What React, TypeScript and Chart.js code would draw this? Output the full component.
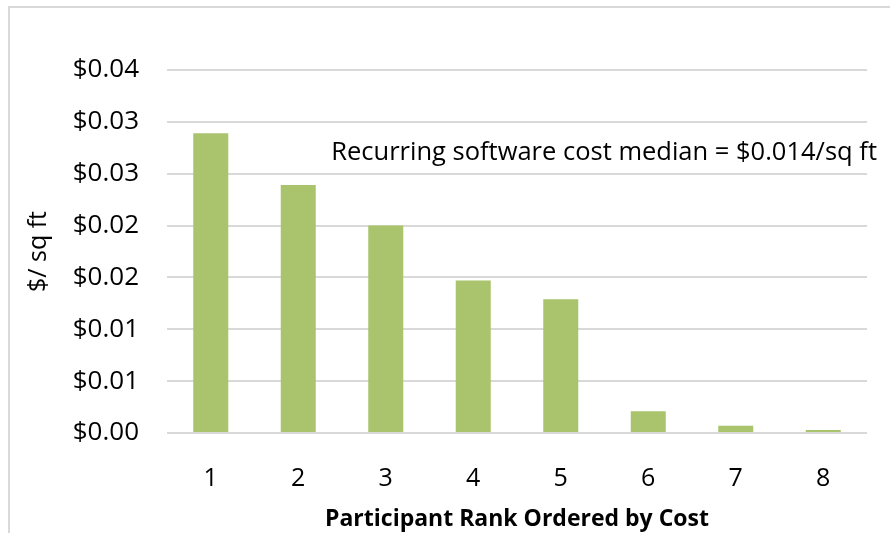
import React, { useEffect, useRef } from "react";
import { Chart, registerables } from "chart.js";

Chart.register(...registerables);

const categories = ["1", "2", "3", "4", "5", "6", "7", "8"];
const costPerSqFt = [0.0289, 0.0239, 0.02, 0.0147, 0.0129, 0.0021, 0.0007, 0.0003];
const yTickLabels = ["$0.00", "$0.01", "$0.01", "$0.02", "$0.02", "$0.03", "$0.03", "$0.04"];
const annotationText = "Recurring software cost median = $0.014/sq ft";
const yAxisTitle = "$/ sq ft";
const xAxisTitle = "Participant Rank Ordered by Cost";

const FONT = "'Open Sans'";
const BAR = "#a9c46c";
const GRID = "#d9d9d9";

const annotationPlugin = {
  id: "medianNote",
  afterDraw(chart: any) {
    const { ctx, chartArea, scales } = chart;
    ctx.save();
    ctx.font = `25.5px ${FONT}`;
    ctx.fillStyle = "#000";
    ctx.textAlign = "right";
    ctx.textBaseline = "middle";
    ctx.fillText(annotationText, chartArea.right + 10, scales.y.getPixelForValue(0.027));
    ctx.restore();
  },
};

export default function App() {
  const ref = useRef<HTMLCanvasElement | null>(null);
  useEffect(() => {
    document.body.style.margin = "0";
    const chart = new Chart(ref.current!, {
      type: "bar",
      data: {
        labels: categories,
        datasets: [
          {
            data: costPerSqFt,
            backgroundColor: BAR,
            barPercentage: 0.8,
            categoryPercentage: 0.5,
          },
        ],
      },
      plugins: [annotationPlugin],
      options: {
        animation: false,
        responsive: true,
        maintainAspectRatio: false,
        layout: { padding: { top: 70, right: 23, bottom: 0, left: 0 } },
        plugins: { legend: { display: false }, tooltip: { enabled: false } },
        scales: {
          x: {
            grid: { display: false },
            border: { display: false },
            ticks: { color: "#000", font: { family: FONT, size: 25 }, padding: 23 },
            title: {
              display: true,
              text: xAxisTitle,
              color: "#000",
              font: { family: FONT, size: 23, weight: "bold" },
              padding: { top: 0, bottom: 0 },
            },
            afterFit(scale: any) {
              scale.height = 100;
            },
          },
          y: {
            min: 0,
            max: 0.035,
            grid: { color: GRID, lineWidth: 2, drawTicks: false },
            border: { display: false },
            ticks: {
              stepSize: 0.005,
              padding: 28,
              color: "#000",
              font: { family: FONT, size: 26 },
              callback: (_v: any, i: number) => yTickLabels[i],
            },
            title: {
              display: true,
              text: yAxisTitle,
              color: "#000",
              font: { family: FONT, size: 25 },
              padding: { top: 24, bottom: 0 },
            },
            afterFit(scale: any) {
              scale.width = 167;
            },
          },
        },
      },
    });
    return () => chart.destroy();
  }, []);
  return (
    <div style={{ position: "relative", width: 890, height: 533, overflow: "hidden", background: "#fff" }}>
      <div
        style={{
          position: "absolute",
          left: 8,
          top: 6,
          width: 900,
          height: 540,
          borderTop: `2px solid ${GRID}`,
          borderLeft: `2px solid ${GRID}`,
        }}
      />
      <canvas ref={ref} style={{ position: "absolute", left: 0, top: 0 }} />
    </div>
  );
}
